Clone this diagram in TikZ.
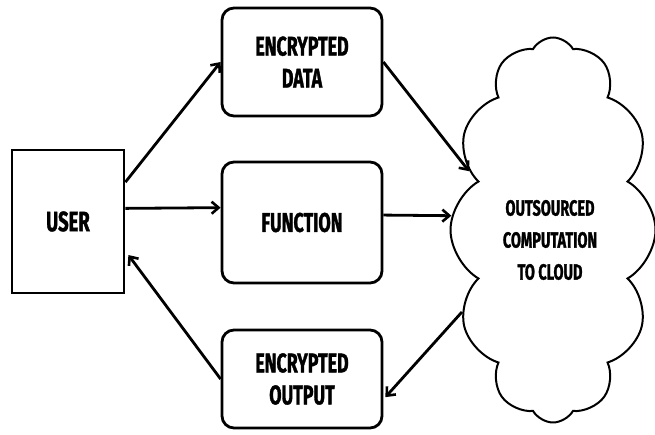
\documentclass[tikz,border=0pt]{standalone}
\usepackage{fontspec}
\setmainfont{Fira Sans}[BoldFont=* Bold]
\newfontfamily\condfont{Fira Sans}[UprightFont=* Bold, FakeStretch=0.66, FakeBold=1.2]
\usetikzlibrary{shapes.symbols,arrows.meta,calc}
\begin{document}
\begin{tikzpicture}[x=1pt,y=-1pt,
  box/.style={draw, line width=2.8pt, rounded corners=12pt, inner sep=0pt, align=center,
     font=\condfont\fontsize{27}{32}\selectfont},
  userbox/.style={draw, line width=2.8pt, inner sep=0pt, align=center,
     font=\condfont\fontsize{28}{32}\selectfont},
  link/.style={line width=2.8pt, -{Straight Barb[length=7pt,width=12pt,line width=2.6pt]}},
  cloudshape/.style={draw, cloud, cloud puffs=12, cloud puff arc=120, aspect=0.5, line width=2pt,
     minimum width=205pt, minimum height=385pt, inner sep=0pt},
  cloudtext/.style={align=center, inner sep=0pt,
     font=\condfont\fontsize{22}{32}\selectfont}]
\useasboundingbox (0,0) rectangle (655,435);
\node[userbox, minimum width=112pt, minimum height=143pt] (user) at (68,221.5) {USER};
\node[box, minimum width=160pt, minimum height=108pt] (data) at (302,62) {ENCRYPTED\\DATA};
\node[box, minimum width=160pt, minimum height=121pt] (func) at (302,222.5) {FUNCTION};
\node[box, minimum width=160pt, minimum height=98pt] (out) at (302,379) {ENCRYPTED\\OUTPUT};
\node[cloudshape] (cloud) at (553,230) {};
\node[cloudtext] (cloudlabel) at (550,240) {OUTSOURCED\\COMPUTATION\\TO CLOUD};
\draw[link] ($(user.north east)!0.23!(user.south east)$) -- (data.west);
\draw[link] ($(user.north east)!0.41!(user.south east)$) -- ($(func.north west)!0.38!(func.south west)$);
\draw[link] (out.west) -- ($(user.north east)!0.73!(user.south east)+(3,0)$);
\draw[link] (data.east) -- (cloud.145);
\draw[link] ($(func.north east)!0.44!(func.south east)$) -- (cloud.172);
\draw[link] (cloud.222) -- ($(out.north east)!0.68!(out.south east)+(2,0)$);
\end{tikzpicture}
\end{document}
